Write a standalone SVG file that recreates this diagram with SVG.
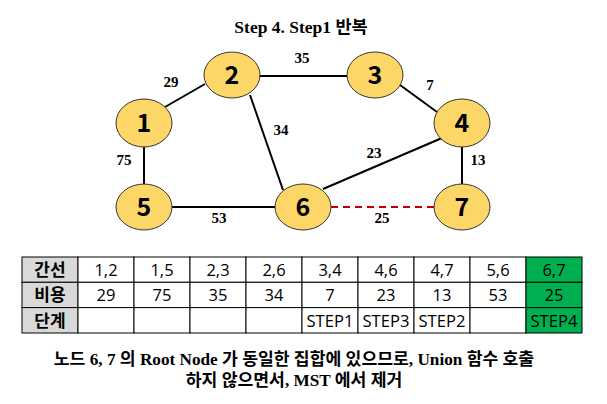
<svg xmlns="http://www.w3.org/2000/svg" width="607" height="404" viewBox="0 0 607 404">
<style>
.title{font-family:"Liberation Serif","Noto Sans CJK KR",serif;font-weight:bold;font-size:17.5px;fill:#000}
.cap{font-family:"Liberation Serif","Noto Sans CJK KR",serif;font-weight:bold;font-size:17.2px;fill:#000}
.el{font-family:"Liberation Serif",serif;font-weight:bold;font-size:15px;fill:#000}
.node ellipse{fill:#fcd666;stroke:#333;stroke-width:1}
.node text{font-family:"Noto Sans CJK KR","Liberation Sans",sans-serif;font-weight:bold;font-size:25px;fill:#000;text-anchor:middle}
.edge{stroke:#000;stroke-width:2}
.dash{stroke:#c00000;stroke-width:2;stroke-dasharray:7 5}
.cell{fill:#fff;stroke:#000;stroke-width:1}
.hdr{fill:#d9d9d9;stroke:#000;stroke-width:1}
.grn{fill:#00b050;stroke:#000;stroke-width:1}
.ht{font-family:"Noto Sans CJK KR",sans-serif;font-weight:bold;font-size:17px;text-anchor:middle;fill:#000}
.ct{font-family:"Open Sans","Noto Sans CJK KR",sans-serif;font-size:16.5px;text-anchor:middle;fill:#000}
</style>
<rect width="607" height="404" fill="#fff"/>
<text class="title" x="301" y="33" text-anchor="middle">Step 4. Step1 반복</text>
<g id="connectors">
<line class="edge" x1="165" y1="107" x2="205" y2="84"/>
<line class="edge" x1="259" y1="76" x2="347" y2="76"/>
<line class="edge" x1="400" y1="85" x2="437" y2="112"/>
<line class="edge" x1="250" y1="95" x2="283" y2="190"/>
<line class="edge" x1="144" y1="147" x2="144" y2="184"/>
<line class="edge" x1="442" y1="138" x2="323" y2="189"/>
<line class="edge" x1="462" y1="147" x2="462" y2="184"/>
<line class="edge" x1="172" y1="207" x2="275" y2="207"/>
<line class="dash" x1="331" y1="207" x2="434" y2="207"/>
<text class="el" x="171" y="87" text-anchor="middle">29</text>
<text class="el" x="302" y="63" text-anchor="middle">35</text>
<text class="el" x="430" y="90" text-anchor="middle">7</text>
<text class="el" x="281" y="135" text-anchor="middle">34</text>
<text class="el" x="124" y="165" text-anchor="middle">75</text>
<text class="el" x="374" y="158" text-anchor="middle">23</text>
<text class="el" x="478" y="165" text-anchor="middle">13</text>
<text class="el" x="219" y="223" text-anchor="middle">53</text>
<text class="el" x="382" y="223" text-anchor="middle">25</text>
</g>
<g id="n1" class="node"><ellipse cx="144" cy="123" rx="28" ry="24"/><text x="144" y="132">1</text></g>
<g id="n2" class="node"><ellipse cx="232" cy="75" rx="28" ry="23"/><text x="232" y="84">2</text></g>
<g id="n3" class="node"><ellipse cx="375" cy="75" rx="28" ry="23"/><text x="375" y="84">3</text></g>
<g id="n4" class="node"><ellipse cx="462" cy="123" rx="28" ry="24"/><text x="462" y="132">4</text></g>
<g id="n5" class="node"><ellipse cx="144" cy="207" rx="28" ry="23"/><text x="144" y="216">5</text></g>
<g id="n6" class="node"><ellipse cx="303" cy="207" rx="28" ry="23"/><text x="303" y="216">6</text></g>
<g id="n7" class="node"><ellipse cx="462" cy="207" rx="28" ry="23"/><text x="462" y="216">7</text></g>
<g id="table">
<rect class="hdr" x="22" y="257" width="56" height="25.3"/>
<rect class="hdr" x="22" y="282.3" width="56" height="25.3"/>
<rect class="hdr" x="22" y="307.6" width="56" height="25.4"/>
<g>
<rect class="cell" x="78" y="257" width="56" height="25.3"/><rect class="cell" x="134" y="257" width="56" height="25.3"/><rect class="cell" x="190" y="257" width="56" height="25.3"/><rect class="cell" x="246" y="257" width="56" height="25.3"/><rect class="cell" x="302" y="257" width="56" height="25.3"/><rect class="cell" x="358" y="257" width="56" height="25.3"/><rect class="cell" x="414" y="257" width="56" height="25.3"/><rect class="cell" x="470" y="257" width="56" height="25.3"/><rect class="grn" x="526" y="257" width="56" height="25.3"/>
<rect class="cell" x="78" y="282.3" width="56" height="25.3"/><rect class="cell" x="134" y="282.3" width="56" height="25.3"/><rect class="cell" x="190" y="282.3" width="56" height="25.3"/><rect class="cell" x="246" y="282.3" width="56" height="25.3"/><rect class="cell" x="302" y="282.3" width="56" height="25.3"/><rect class="cell" x="358" y="282.3" width="56" height="25.3"/><rect class="cell" x="414" y="282.3" width="56" height="25.3"/><rect class="cell" x="470" y="282.3" width="56" height="25.3"/><rect class="grn" x="526" y="282.3" width="56" height="25.3"/>
<rect class="cell" x="78" y="307.6" width="56" height="25.4"/><rect class="cell" x="134" y="307.6" width="56" height="25.4"/><rect class="cell" x="190" y="307.6" width="56" height="25.4"/><rect class="cell" x="246" y="307.6" width="56" height="25.4"/><rect class="cell" x="302" y="307.6" width="56" height="25.4"/><rect class="cell" x="358" y="307.6" width="56" height="25.4"/><rect class="cell" x="414" y="307.6" width="56" height="25.4"/><rect class="cell" x="470" y="307.6" width="56" height="25.4"/><rect class="grn" x="526" y="307.6" width="56" height="25.4"/>
</g>
<text class="ht" x="50" y="276">간선</text>
<text class="ht" x="50" y="301">비용</text>
<text class="ht" x="50" y="327">단계</text>
<g class="ct-row">
<text class="ct" x="106" y="276">1,2</text><text class="ct" x="162" y="276">1,5</text><text class="ct" x="218" y="276">2,3</text><text class="ct" x="274" y="276">2,6</text><text class="ct" x="330" y="276">3,4</text><text class="ct" x="386" y="276">4,6</text><text class="ct" x="442" y="276">4,7</text><text class="ct" x="498" y="276">5,6</text><text class="ct" x="554" y="276">6,7</text>
<text class="ct" x="106" y="301">29</text><text class="ct" x="162" y="301">75</text><text class="ct" x="218" y="301">35</text><text class="ct" x="274" y="301">34</text><text class="ct" x="330" y="301">7</text><text class="ct" x="386" y="301">23</text><text class="ct" x="442" y="301">13</text><text class="ct" x="498" y="301">53</text><text class="ct" x="554" y="301">25</text>
<text class="ct" x="330" y="327" textLength="47" lengthAdjust="spacingAndGlyphs">STEP1</text><text class="ct" x="386" y="327" textLength="47" lengthAdjust="spacingAndGlyphs">STEP3</text><text class="ct" x="442" y="327" textLength="47" lengthAdjust="spacingAndGlyphs">STEP2</text><text class="ct" x="554" y="327" textLength="47" lengthAdjust="spacingAndGlyphs">STEP4</text>
</g>
</g>
<text class="cap" x="294" y="365" text-anchor="middle">노드 6, 7 의 Root Node 가 동일한 집합에 있으므로, Union 함수 호출</text>
<text class="cap" x="294" y="386" text-anchor="middle">하지 않으면서, MST 에서 제거</text>
</svg>
